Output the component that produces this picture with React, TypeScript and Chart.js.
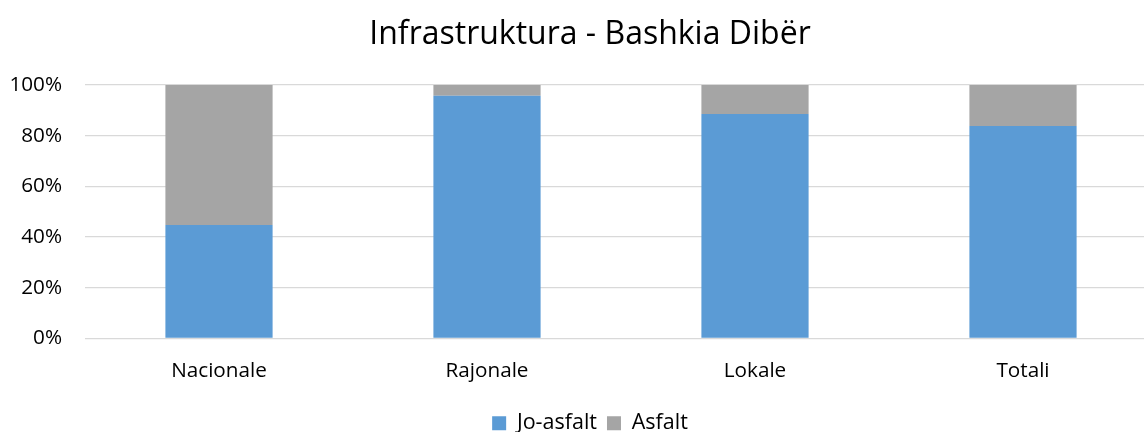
import React, { useEffect, useRef } from "react";
import { Chart, registerables } from "chart.js";

Chart.register(...registerables);

const categories = ["Nacionale", "Rajonale", "Lokale", "Totali"];
const joAsfalt = [44.8, 95.8, 88.6, 83.8];
const asfalt = [55.2, 4.2, 11.4, 16.2];
const yTicks = [0, 20, 40, 60, 80, 100];

const FONT = "'Open Sans', sans-serif";

export default function App() {
  const ref = useRef<HTMLCanvasElement | null>(null);
  useEffect(() => {
    if (!ref.current) return;
    const chart = new Chart(ref.current, {
      type: "bar",
      data: {
        labels: categories,
        datasets: [
          {
            label: "Jo-asfalt",
            data: joAsfalt,
            backgroundColor: "#5B9BD5",
            borderWidth: 0,
            categoryPercentage: 1,
            barPercentage: 0.4,
          },
          {
            label: "Asfalt",
            data: asfalt,
            backgroundColor: "#A5A5A5",
            borderWidth: 0,
            categoryPercentage: 1,
            barPercentage: 0.4,
          },
        ],
      },
      options: {
        responsive: false,
        animation: false,
        layout: { padding: { left: 23, right: 23, top: 0, bottom: 0 } },
        plugins: {
          title: {
            display: true,
            text: "Infrastruktura - Bashkia Dibër",
            color: "#000",
            font: { family: FONT, size: 32, weight: "normal", lineHeight: 1.2 },
            padding: { top: 15.3, bottom: 31.3 },
          },
          legend: {
            position: "bottom",
            labels: {
              color: "#000",
              font: { family: FONT, size: 21.5 },
              boxWidth: 14,
              boxHeight: 14,
              padding: 10,
            },
          },
          tooltip: { enabled: false },
        },
        scales: {
          x: {
            stacked: true,
            grid: { display: false },
            border: { display: false },
            ticks: {
              color: "#000",
              font: { family: FONT, size: 20.7 },
              padding: 12,
            },
            afterFit: (s: any) => {
              s.height = 64;
            },
          },
          y: {
            stacked: true,
            min: 0,
            max: 100,
            afterBuildTicks: (s: any) => {
              s.ticks = yTicks.map((v) => ({ value: v }));
            },
            grid: { color: "#D9D9D9", lineWidth: 1.3, drawTicks: false },
            border: { display: false },
            ticks: {
              color: "#000",
              font: { family: FONT, size: 20.7 },
              padding: 23,
              callback: (v: any) => v + "%",
            },
            afterFit: (s: any) => {
              s.width = 62;
              s._computeLabelArea = () => undefined;
            },
          },
        },
      },
    });
    return () => chart.destroy();
  }, []);
  return (
    <div
      style={{
        position: "fixed",
        left: 0,
        top: 0,
        width: 1144,
        height: 432,
        overflow: "hidden",
        background: "#fff",
      }}
    >
      <canvas ref={ref} width={1180} height={444} style={{ display: "block" }} />
    </div>
  );
}
